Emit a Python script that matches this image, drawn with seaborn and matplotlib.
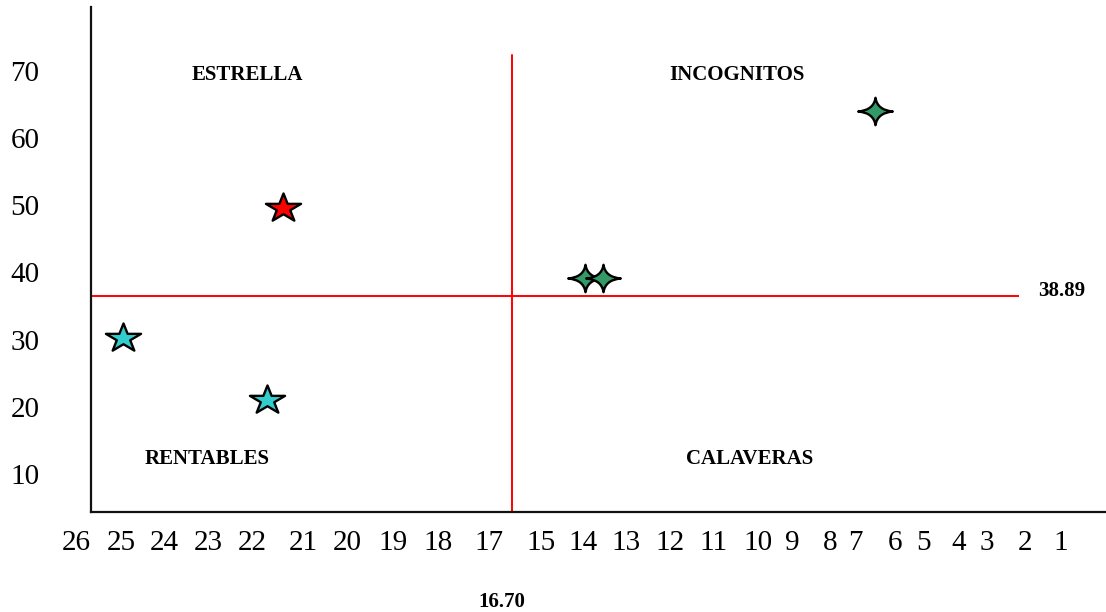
import matplotlib
matplotlib.use("Agg")
import matplotlib.pyplot as plt
import numpy as np
import pandas as pd
import seaborn as sns
from matplotlib.path import Path

# data
ESTRELLA_X = [21.40]
ESTRELLA_Y = [49.6]
RENTABLES_X = [24.95, 21.71]
RENTABLES_Y = [30.2, 21.0]
INCOGNITOS_X = [6.49, 13.95, 13.53]
INCOGNITOS_Y = [64.1, 39.2, 39.2]

HLINE_Y = 36.5
HLINE_LABEL = "38.89"
VLINE_X = 16.12
VLINE_LABEL = "16.70"

Y_TICKS = [10, 20, 30, 40, 50, 60, 70]
X_TICKS = [26, 25, 24, 23, 22, 21, 20, 19, 18, 17, 15, 14, 13, 12, 11,
           10, 9, 8, 7, 6, 5, 4, 3, 2, 1]
# hand placed labels in the original: pixel column of each x label
X_TICK_PX = [76, 121, 164, 208, 252, 303, 347, 393, 438, 489, 541, 583, 626,
             670, 713, 758, 792, 830, 855, 895, 923, 959, 987, 1025, 1061]

QUADRANTS = ["ESTRELLA", "INCOGNITOS", "RENTABLES", "CALAVERAS"]

W, H = 1106, 612
AX_TOP, AX_BOTTOM = 7, 512
SPINE_PX = 91

# piecewise scale built from the label columns (plus two anchors outside)
vals = np.array([-2] + X_TICKS[::-1] + [28], dtype=float)
pix = np.array([1169] + X_TICK_PX[::-1] + [-12], dtype=float)


def forward(v):
    return np.interp(np.asarray(v, dtype=float), vals, pix)


def inverse(p):
    return np.interp(np.asarray(p, dtype=float), pix[::-1], vals[::-1])


def star_marker(points, inner, stretch):
    ang = np.pi / 2 + np.arange(2 * points) * np.pi / points
    rad = np.where(np.arange(2 * points) % 2 == 0, 1.0, inner)
    verts = np.column_stack([rad * np.cos(ang) * stretch, rad * np.sin(ang)])
    verts = np.vstack([verts, verts[:1]])
    codes = [Path.MOVETO] + [Path.LINETO] * (2 * points - 1) + [Path.CLOSEPOLY]
    return Path(verts, codes)


def sparkle_marker(stretch):
    tips = [(stretch, 0), (0, 1), (-stretch, 0), (0, -1)]
    ctrl = [(0.1 * stretch, 0.1), (-0.1 * stretch, 0.1),
            (-0.1 * stretch, -0.1), (0.1 * stretch, -0.1)]
    verts = [tips[0]]
    codes = [Path.MOVETO]
    for i in range(4):
        verts += [ctrl[i], tips[(i + 1) % 4]]
        codes += [Path.CURVE3, Path.CURVE3]
    verts.append(tips[0])
    codes.append(Path.CLOSEPOLY)
    return Path(verts, codes)


sns.set_theme(style="white")
plt.rcParams["font.family"] = ["Liberation Serif", "DejaVu Serif"]

fig = plt.figure(figsize=(W / 100, H / 100), dpi=100)
ax = fig.add_axes([0, (H - AX_BOTTOM) / H, 1, (AX_BOTTOM - AX_TOP) / H])
ax.set_xscale("function", functions=(forward, inverse))

df = pd.concat([
    pd.DataFrame({"x": ESTRELLA_X, "y": ESTRELLA_Y, "grupo": "estrella"}),
    pd.DataFrame({"x": RENTABLES_X, "y": RENTABLES_Y, "grupo": "rentables"}),
    pd.DataFrame({"x": INCOGNITOS_X, "y": INCOGNITOS_Y, "grupo": "incognitos"}),
])

star = star_marker(5, 0.382, 1.23)
sparkle = sparkle_marker(1.26)
styles = {
    "estrella": ("#FF0000", star, 640),
    "rentables": ("#33CCCC", star, 640),
    "incognitos": ("#339966", sparkle, 620),
}

# reference lines
ax.axvline(VLINE_X, ymin=0, ymax=(AX_BOTTOM - 55) / (AX_BOTTOM - AX_TOP),
           color="#FF0000", lw=1.4, zorder=1)
ax.hlines(HLINE_Y, inverse(SPINE_PX), inverse(1019), color="#FF0000", lw=1.4, zorder=1)

for grupo, (color, marker, size) in styles.items():
    sns.scatterplot(data=df[df["grupo"] == grupo], x="x", y="y", ax=ax,
                    color=color, marker=marker, s=size, edgecolor="black",
                    linewidth=1.7, zorder=3, legend=False)

# the scale already runs right-to-left, so the limits go in this order
ax.set_xlim(inverse(W), inverse(0))
ax.set_ylim(10 - (AX_BOTTOM - 474) / 6.717, 10 + (474 - AX_TOP) / 6.717)

ax.set_xticks(X_TICKS)
ax.set_xticklabels([str(t) for t in X_TICKS])
ax.set_yticks(Y_TICKS)
ax.set_yticklabels([str(t) for t in Y_TICKS])
ax.tick_params(axis="x", length=0, pad=13, labelsize=21, colors="black")
ax.tick_params(axis="y", length=0, pad=37, labelsize=21, colors="black")
ax.set_xlabel("")
ax.set_ylabel("")

for side in ["top", "right"]:
    ax.spines[side].set_visible(False)
ax.spines["left"].set_position(("data", inverse(SPINE_PX)))
ax.spines["left"].set_linewidth(1.6)
ax.spines["left"].set_color("#111111")
ax.spines["bottom"].set_bounds(inverse(SPINE_PX), inverse(W))
ax.spines["bottom"].set_linewidth(1.6)
ax.spines["bottom"].set_color("#111111")
ax.patch.set_visible(False)


def frac(px, py):
    return px / W, (AX_BOTTOM - py) / (AX_BOTTOM - AX_TOP)


bold = dict(fontsize=15, fontweight="bold", color="black", va="baseline",
            ha="center", transform=ax.transAxes)
for label, (px, py) in zip(QUADRANTS, [(247, 80), (737, 80), (207, 464), (750, 464)]):
    ax.text(*frac(px, py), label, **bold)
ax.text(*frac(1062, 296), HLINE_LABEL, **bold)
ax.text(*frac(502, 607), VLINE_LABEL, clip_on=False, **bold)

fig.savefig("out.png", dpi=100)
